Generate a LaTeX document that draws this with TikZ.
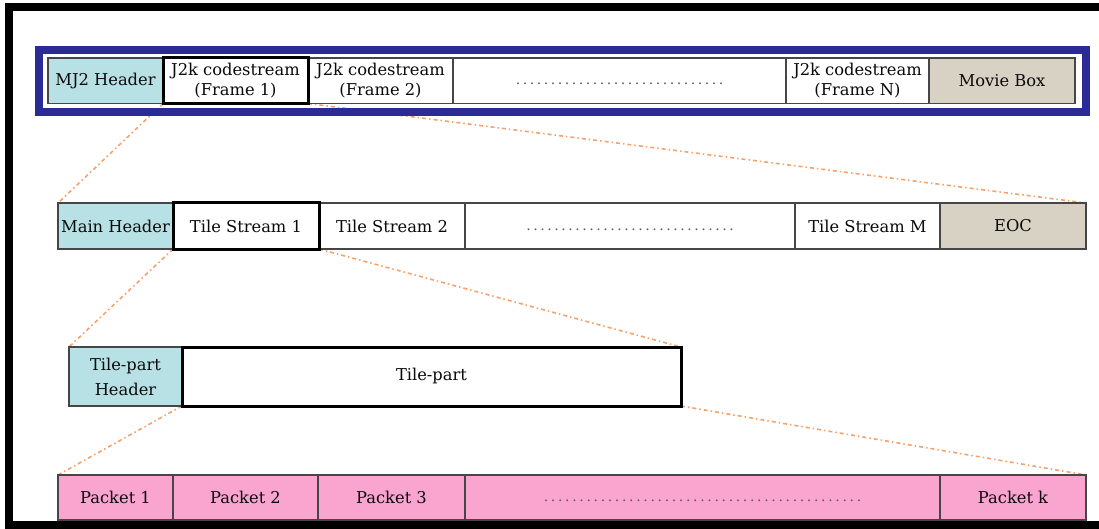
\documentclass[tikz,border=0pt]{standalone}
\usepackage{fontspec}
\setmainfont{DejaVu Serif}
\usetikzlibrary{backgrounds}
\definecolor{hdrcyan}{RGB}{183,225,228}
\definecolor{boxbeige}{RGB}{216,210,196}
\definecolor{pkpink}{RGB}{249,165,208}
\definecolor{frameblue}{RGB}{43,43,150}
\definecolor{linkorange}{RGB}{246,162,108}
\definecolor{cellline}{RGB}{70,70,70}
\definecolor{dotgray}{RGB}{90,90,90}
\definecolor{txt}{RGB}{10,10,10}
\newcommand\dotrun[1]{\vphantom{Hg}{\fontsize{14}{16}\selectfont\textcolor{dotgray}{\makebox[#1pt]{\xleaders\hbox to 7pt{\hss.\hss}\hfill}}}}
\begin{document}
\begin{tikzpicture}[x=1pt,y=-1pt,
 cell/.style={draw=cellline, line width=1.5pt, inner sep=0pt, outer sep=0pt, anchor=north west, align=center, text=txt, font=\fontsize{16.3}{20}\selectfont},
 thickcell/.style={cell, draw=black, line width=3pt},
 link/.style={draw=linkorange, line width=1.6pt, dash pattern=on 4pt off 3pt on 1.5pt off 3pt},
 filebox/.style={draw=frameblue, line width=8pt, inner sep=0pt, outer sep=0pt, anchor=north west},
]
\useasboundingbox (0,0) rectangle (1099,529);
\clip (0,0) rectangle (1099,529);
\begin{pgfonlayer}{background}
\fill[white] (0,0) rectangle (1099,529);
\end{pgfonlayer}
\draw[line width=8pt] (9,7.5) rectangle (1103,525);
\node[filebox, minimum width=1046.5pt, minimum height=62.5pt] (file) at (39,50) {};
% Row 1
\node[cell, fill=hdrcyan, minimum width=115pt, minimum height=45.5pt] (mj2) at (48,58) {MJ2 Header};
\node[cell, fill=white, minimum width=145pt, minimum height=45.5pt] (f2) at (308,58) {J2k codestream\\(Frame 2)};
\node[cell, fill=white, minimum width=333pt, minimum height=45.5pt] (d1) at (453,58) {\dotrun{210}};
\node[cell, fill=white, minimum width=143pt, minimum height=45.5pt] (fN) at (786,58) {J2k codestream\\(Frame N)};
\node[cell, fill=boxbeige, minimum width=146pt, minimum height=45.5pt] (movie) at (929,58) {Movie Box};
\node[thickcell, fill=white, minimum width=145pt, minimum height=45.5pt] (f1) at (163,58) {J2k codestream\\(Frame 1)};
% Row 2
\node[cell, fill=hdrcyan, minimum width=115pt, minimum height=46pt] (mainh) at (58,203) {Main Header};
\node[cell, fill=white, minimum width=146pt, minimum height=46pt] (ts2) at (319,203) {Tile Stream 2};
\node[cell, fill=white, minimum width=330pt, minimum height=46pt] (d2) at (465,203) {\dotrun{210}};
\node[cell, fill=white, minimum width=145pt, minimum height=46pt] (tsM) at (795,203) {Tile Stream M};
\node[cell, fill=boxbeige, minimum width=146pt, minimum height=46pt] (eoc) at (940,203) {EOC};
\node[thickcell, fill=white, minimum width=146pt, minimum height=46pt] (ts1) at (173,203) {Tile Stream 1};
% Row 3
\node[cell, fill=hdrcyan, minimum width=113pt, minimum height=59pt, font=\fontsize{16.3}{25}\selectfont] (tph) at (69,347) {Tile-part\\Header};
\node[thickcell, fill=white, minimum width=499pt, minimum height=59pt] (tp) at (182,347) {Tile-part};
% Row 4
\node[cell, fill=pkpink, minimum width=115pt, minimum height=45pt] (p1) at (58,475) {Packet 1};
\node[cell, fill=pkpink, minimum width=145pt, minimum height=45pt] (p2) at (173,475) {Packet 2};
\node[cell, fill=pkpink, minimum width=147pt, minimum height=45pt] (p3) at (318,475) {Packet 3};
\node[cell, fill=pkpink, minimum width=475pt, minimum height=45pt] (d4) at (465,475) {\dotrun{320}};
\node[cell, fill=pkpink, minimum width=146pt, minimum height=45pt] (pk) at (940,475) {Packet k};
% Connectors
\begin{pgfonlayer}{background}
\draw[link] (f1.south west) -- (mainh.north west);
\draw[link] (f1.south east) -- (eoc.north east);
\draw[link] (ts1.south west) -- (tph.north west);
\draw[link] (ts1.south east) -- (tp.north east);
\draw[link] (tp.south west) -- (p1.north west);
\draw[link] (tp.south east) -- (pk.north east);
\end{pgfonlayer}
\end{tikzpicture}
\end{document}
